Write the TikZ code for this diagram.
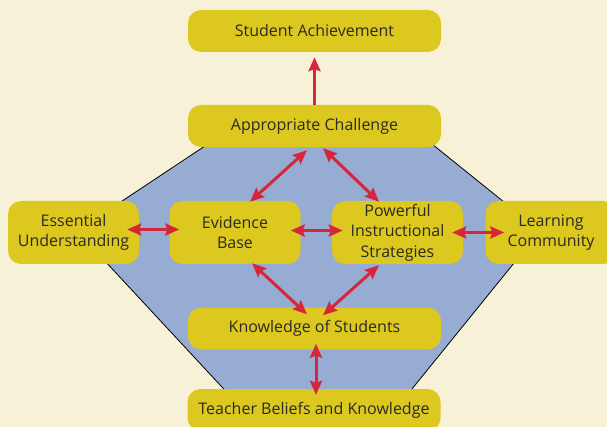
\documentclass[tikz,border=0pt]{standalone}
\usepackage{fontspec}
\setmainfont{Open Sans}
\usetikzlibrary{arrows.meta}
\definecolor{bgcream}{RGB}{247,242,215}
\definecolor{boxyellow}{RGB}{220,200,30}
\definecolor{hexblue}{RGB}{151,172,210}
\definecolor{linkred}{RGB}{214,38,60}
\definecolor{textgray}{RGB}{43,42,37}

\begin{document}
\begin{tikzpicture}[x=1pt,y=1pt,
		box/.style={fill=boxyellow,rounded corners=13pt,inner sep=0pt,align=center,text=textgray,font=\fontsize{16}{20.5}\selectfont},
		wide/.style={box,minimum width=253pt,minimum height=42pt},
		side/.style={box,minimum width=131pt,minimum height=63pt},
		link/.style={draw=linkred,line width=3pt,{Stealth[length=14pt,width=12pt,inset=2pt]}-{Stealth[length=14pt,width=12pt,inset=2pt]}},
		lead/.style={draw=linkred,line width=3pt,-{Stealth[length=14pt,width=12pt,inset=2pt]}}]
		\fill [bgcream] (0,0) rectangle (607,-427);
		\useasboundingbox (0,0) rectangle (607,-427);
		% hexagon behind the boxes
		\filldraw [fill=hexblue,draw=black,line width=0.8pt] (214,-140) -- (427,-140) -- (540,-231) -- (403,-400) -- (234,-400) -- (77,-231) -- cycle;
		% boxes
		\node [wide] (ach) at (314.5,-31) {Student Achievement};
		\node [wide] (chal) at (314.5,-126) {Appropriate Challenge};
		\node [side] (ess) at (73.5,-232.5) {Essential\\Understanding};
		\node [side] (evid) at (235,-232.5) {Evidence\\Base};
		\node [side] (pow) at (397.5,-232.5) {Powerful\\Instructional\\Strategies};
		\node [side] (learn) at (551,-232.5) {Learning\\Community};
		\node [wide] (know) at (314.5,-328.5) {Knowledge of Students};
		\node [wide] (teach) at (314,-410) {Teacher Beliefs and Knowledge};
		% arrows
		\draw [lead] (chal.north) -- ([yshift=-5pt]ach.south);
		\draw [link] ([xshift=-7.5pt,yshift=-3pt]chal.south) -- ([xshift=15pt,yshift=-1pt]evid.north);
		\draw [link] ([xshift=8.5pt,yshift=-1pt]chal.south) -- ([xshift=-18.5pt,yshift=-1pt]pow.north);
		\draw [link] ([xshift=-12pt,yshift=3pt]ess.east) -- ([xshift=10pt,yshift=3pt]evid.west);
		\draw [link] ([xshift=-10pt,yshift=2pt]evid.east) -- ([xshift=11pt,yshift=2pt]pow.west);
		\draw [link] ([xshift=-11pt]pow.east) -- ([xshift=19pt]learn.west);
		\draw [link] ([xshift=17pt,yshift=1pt]evid.south) -- ([xshift=-7.5pt,yshift=-7pt]know.north);
		\draw [link] ([xshift=-18.5pt,yshift=-1pt]pow.south) -- ([xshift=8.5pt,yshift=-8pt]know.north);
		\draw [link] ([xshift=1.5pt,yshift=6pt]know.south) -- ([xshift=2pt,yshift=-6pt]teach.north);
\end{tikzpicture}
\end{document}
